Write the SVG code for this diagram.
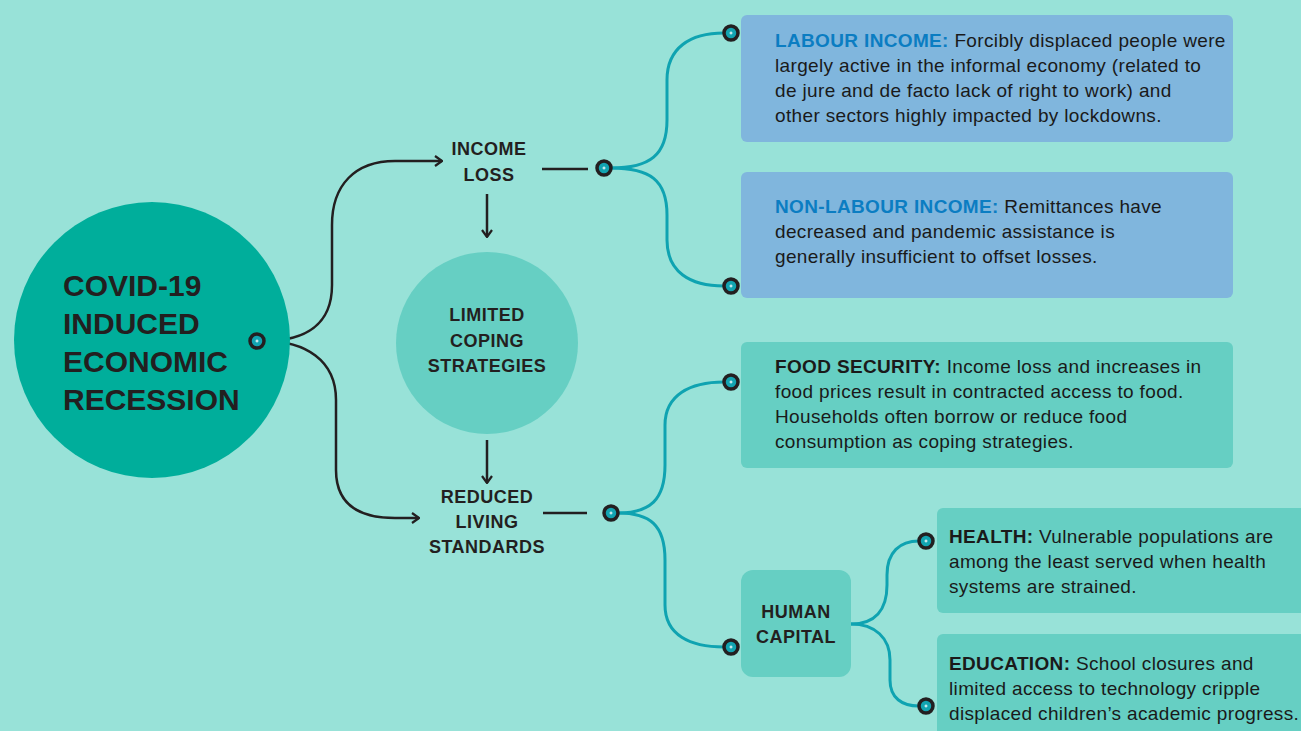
<svg xmlns="http://www.w3.org/2000/svg" width="1301" height="731" viewBox="0 0 1301 731">
  <defs>
    <style>
      .bg { fill: #98E2D8; }
      .main { fill: #00AE9B; }
      .soft { fill: #66CFC3; }
      .blue { fill: #80B6DD; }
      .dark { stroke: #231F20; stroke-width: 2.5; fill: none; }
      .teal { stroke: #0FA3B1; stroke-width: 3; fill: none; }
      .dot { fill: #12A4B1; stroke: #231F20; stroke-width: 3.5; }
      .plus { stroke: #FFFFFF; stroke-width: 1; }
      .big { font-family: "Liberation Sans", Arial, sans-serif; font-weight: bold; font-size: 30px; fill: #231F20; }
      .lbl { font-family: "Liberation Sans", Arial, sans-serif; font-weight: bold; font-size: 18px; letter-spacing: 0.5px; fill: #231F20; text-anchor: middle; }
      .body { font-family: "Liberation Sans", Arial, sans-serif; font-size: 19px; letter-spacing: 0.35px; fill: #1A1A1A; }
      .kb { font-weight: bold; fill: #0B7DC2; }
      .kd { font-weight: bold; fill: #1A1A1A; }
    </style>
    <marker id="arr" viewBox="0 0 10 12" refX="9" refY="6" markerWidth="10" markerHeight="12" markerUnits="userSpaceOnUse" orient="auto">
      <path d="M2,1 L9,6 L2,11" fill="none" stroke="#231F20" stroke-width="2.2"/>
    </marker>
    <g id="dotsym">
      <circle r="7" class="dot"/>
      <path d="M-1.5,0 H1.5 M0,-1.5 V1.5" class="plus"/>
    </g>
  </defs>

  <rect class="bg" x="0" y="0" width="1301" height="731"/>

  <!-- connectors -->
  <g id="connectors">
    <path class="dark" d="M264,341 C305,341 332,325 332,285 L332,225 C332,185 355,161 395,161 L442,161" marker-end="url(#arr)"/>
    <path class="dark" d="M264,341 C305,341 336,360 336,400 L336,470 C336,505 360,518 395,518 L419,518" marker-end="url(#arr)"/>
    <path class="dark" d="M487,194 L487,237" marker-end="url(#arr)"/>
    <path class="dark" d="M487,440 L487,483" marker-end="url(#arr)"/>
    <path class="dark" d="M542,169 L588,169"/>
    <path class="dark" d="M543,513 L587,513"/>
    <path class="teal" d="M611,168 C650,168 667,155 667,120 L667,80 C667,48 690,33 724,33"/>
    <path class="teal" d="M611,168 C650,168 667,180 667,215 L667,240 C667,272 690,286 724,286"/>
    <path class="teal" d="M618,513 C650,513 665,500 665,465 L665,425 C665,395 690,382 724,382"/>
    <path class="teal" d="M618,513 C650,513 665,525 665,560 L665,605 C665,635 690,647 724,647"/>
    <path class="teal" d="M851,624 C875,624 887,610 887,585 L887,575 C887,552 900,541 919,541"/>
    <path class="teal" d="M851,624 C875,624 890,638 890,660 L890,680 C890,698 902,706 919,706"/>
  </g>

  <g id="recession">
    <circle class="main" cx="152" cy="340" r="138"/>
    <text class="big" x="63" y="296">COVID-19</text>
    <text class="big" x="63" y="334">INDUCED</text>
    <text class="big" x="63" y="372">ECONOMIC</text>
    <text class="big" x="63" y="410">RECESSION</text>
  </g>

  <g id="income-loss">
    <text class="lbl" x="489" y="155">INCOME</text>
    <text class="lbl" x="489" y="181">LOSS</text>
  </g>

  <g id="limited-coping">
    <circle class="soft" cx="487" cy="343" r="91"/>
    <text class="lbl" x="487" y="321">LIMITED</text>
    <text class="lbl" x="487" y="347">COPING</text>
    <text class="lbl" x="487" y="372">STRATEGIES</text>
  </g>

  <g id="reduced-living">
    <text class="lbl" x="487" y="503">REDUCED</text>
    <text class="lbl" x="487" y="528">LIVING</text>
    <text class="lbl" x="487" y="553">STANDARDS</text>
  </g>

  <g id="labour-income">
    <rect class="blue" x="741" y="15" width="492" height="127" rx="6"/>
    <text class="body" x="775" y="47"><tspan class="kb">LABOUR INCOME:</tspan> Forcibly displaced people were</text>
    <text class="body" x="775" y="72">largely active in the informal economy (related to</text>
    <text class="body" x="775" y="97">de jure and de facto lack of right to work) and</text>
    <text class="body" x="775" y="122">other sectors highly impacted by lockdowns.</text>
  </g>

  <g id="non-labour-income">
    <rect class="blue" x="741" y="172" width="492" height="126" rx="6"/>
    <text class="body" x="775" y="213"><tspan class="kb">NON-LABOUR INCOME:</tspan> Remittances have</text>
    <text class="body" x="775" y="238">decreased and pandemic assistance is</text>
    <text class="body" x="775" y="263">generally insufficient to offset losses.</text>
  </g>

  <g id="food-security">
    <rect class="soft" x="741" y="342" width="492" height="126" rx="6"/>
    <text class="body" x="775" y="373"><tspan class="kd">FOOD SECURITY:</tspan> Income loss and increases in</text>
    <text class="body" x="775" y="398">food prices result in contracted access to food.</text>
    <text class="body" x="775" y="423">Households often borrow or reduce food</text>
    <text class="body" x="775" y="448">consumption as coping strategies.</text>
  </g>

  <g id="human-capital">
    <rect class="soft" x="741" y="570" width="110" height="107" rx="12"/>
    <text class="lbl" x="796" y="618">HUMAN</text>
    <text class="lbl" x="796" y="643">CAPITAL</text>
  </g>

  <g id="health">
    <rect class="soft" x="937" y="508" width="380" height="105" rx="6"/>
    <text class="body" x="949" y="543"><tspan class="kd">HEALTH:</tspan> Vulnerable populations are</text>
    <text class="body" x="949" y="568">among the least served when health</text>
    <text class="body" x="949" y="593">systems are strained.</text>
  </g>

  <g id="education">
    <rect class="soft" x="937" y="634" width="380" height="110" rx="6"/>
    <text class="body" x="949" y="670"><tspan class="kd">EDUCATION:</tspan> School closures and</text>
    <text class="body" x="949" y="695">limited access to technology cripple</text>
    <text class="body" x="949" y="720">displaced children’s academic progress.</text>
  </g>

  <g id="dots">
    <use href="#dotsym" x="257" y="341"/>
    <use href="#dotsym" x="604" y="168"/>
    <use href="#dotsym" x="731" y="33"/>
    <use href="#dotsym" x="731" y="286"/>
    <use href="#dotsym" x="611" y="513"/>
    <use href="#dotsym" x="731" y="382"/>
    <use href="#dotsym" x="731" y="647"/>
    <use href="#dotsym" x="926" y="541"/>
    <use href="#dotsym" x="926" y="706"/>
  </g>
</svg>
